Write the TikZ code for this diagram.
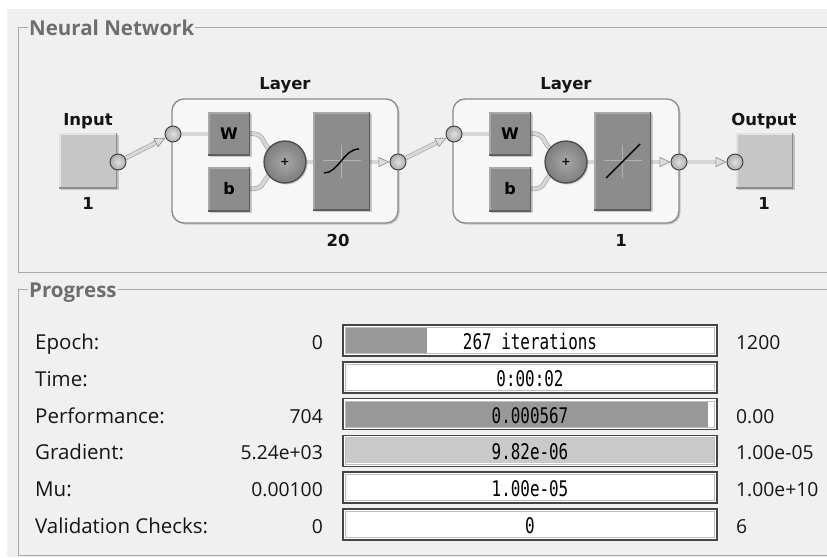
\documentclass[tikz,border=0pt]{standalone}
\usepackage{fontspec}
\setmainfont{Open Sans}
\newfontfamily\diagfont{DejaVu Sans}
\newfontfamily\barfont{DejaVu Sans Mono}[FakeStretch=0.74]
\usetikzlibrary{arrows.meta,shadows,calc}
\pgfdeclarelayer{back}
\pgfdeclarelayer{wires}
\pgfsetlayers{back,wires,main}

\definecolor{panel}{HTML}{F0F0F0}
\definecolor{groupline}{HTML}{A9A9A9}
\definecolor{titlegray}{HTML}{6E6E6E}
\definecolor{layerfill}{HTML}{F7F7F7}
\definecolor{layeredge}{HTML}{8A8A8A}
\definecolor{boxdark}{HTML}{8C8C8C}
\definecolor{boxdarkhi}{HTML}{A8A8A8}
\definecolor{boxdarklo}{HTML}{5E5E5E}
\definecolor{boxlight}{HTML}{C6C6C6}
\definecolor{boxlighthi}{HTML}{E2E2E2}
\definecolor{boxlightlo}{HTML}{8E8E8E}
\definecolor{wirefill}{HTML}{D6D6D6}
\definecolor{wireedge}{HTML}{9E9E9E}
\definecolor{tipfill}{HTML}{DCDCDC}
\definecolor{tipedge}{HTML}{8A8A8A}
\definecolor{portedge}{HTML}{3D3D3D}
\definecolor{textdark}{HTML}{151515}
\definecolor{barfill}{HTML}{989898}
\definecolor{barlight}{HTML}{C9C9C9}
\definecolor{baredge}{HTML}{454545}
\definecolor{barinner}{HTML}{BDBDBD}
\definecolor{crossgray}{HTML}{B2B2B2}

\tikzset{
  bevel/.style 2 args={path picture={
    \draw[#1,line width=3pt] (path picture bounding box.south west) -- (path picture bounding box.north west) -- (path picture bounding box.north east);
    \draw[#2,line width=3pt] (path picture bounding box.north east) -- (path picture bounding box.south east) -- (path picture bounding box.south west);}},
  softshadow/.style={drop shadow={shadow xshift=1.5pt, shadow yshift=-1.5pt, fill=black, opacity=0.18}},
  dlabel/.style={font=\diagfont\bfseries\fontsize{16.5}{18}\selectfont, text=textdark, inner sep=0pt},
  grouptitle/.style={font=\bfseries\fontsize{20.5}{22}\selectfont, text=titlegray, fill=panel, inner xsep=1pt, inner ysep=0pt, anchor=base west},
  layerbox/.style={rectangle, rounded corners=12pt, minimum width=226pt, minimum height=124pt, fill=layerfill, draw=layeredge, line width=1.3pt, softshadow},
  wbox/.style={rectangle, minimum width=42pt, minimum height=43pt, inner sep=0pt, fill=boxdark, bevel={boxdarkhi}{boxdarklo}, softshadow,
    font=\diagfont\bfseries\fontsize{16}{16}\selectfont, text=black, text height=11.5pt, text depth=0pt},
  tfbox/.style={rectangle, minimum width=57pt, minimum height=98pt, inner sep=0pt, fill=boxdark, bevel={boxdarkhi}{boxdarklo}, softshadow},
  iobox/.style={rectangle, minimum width=58pt, minimum height=55pt, inner sep=0pt, fill=boxlight, bevel={boxlighthi}{boxlightlo}, softshadow},
  sumnode/.style={circle, minimum size=42pt, inner sep=0pt, shading=radial, inner color=boxdarkhi, outer color=boxdark!90!black,
    draw=boxdarklo!80!black, line width=1.3pt, softshadow, font=\diagfont\bfseries\fontsize{11}{11}\selectfont},
  port/.style={circle, minimum size=16pt, inner sep=0pt, shading=radial, inner color=white!88!black, outer color=white!68!black,
    draw=portedge, line width=0.9pt},
  wire/.style={draw=wireedge, line width=0.6pt, double=wirefill, double distance=3.4pt},
  tipwire/.style={draw=wirefill, line width=0.2pt, -{Triangle[length=11pt,width=10pt,color=tipedge,fill=tipfill,line width=0.6pt]}},
  bar/.style={rectangle, minimum width=374pt, minimum height=31pt, inner sep=0pt, fill=white, draw=baredge, line width=1.6pt,
    path picture={\draw[barinner, line width=0.8pt] ($(path picture bounding box.south west)+(2.4pt,2.4pt)$) rectangle ($(path picture bounding box.north east)+(-2.4pt,-2.4pt)$);}},
  bartext/.style={font=\barfont\fontsize{21.5}{22}\selectfont, text=black, inner sep=0pt},
  plabel/.style={font=\fontsize{20.5}{22}\selectfont, text=textdark, inner sep=0pt},
  pvalue/.style={font=\fontsize{19.3}{21}\selectfont, text=textdark, inner sep=0pt},
}

\begin{document}
\begin{tikzpicture}[x=1pt,y=-1pt]
\useasboundingbox (0,0) rectangle (827,557);

\begin{pgfonlayer}{back}
  \fill[white] (0,0) rectangle (827,557);
  \fill[panel] (7,9) rectangle (827,557);
  % group frames, open on the right
  \draw[groupline, line width=0.8pt] (827,27) -- (18,27) -- (18,272) -- (827,272);
  \draw[groupline, line width=0.8pt] (827,289) -- (18,289) -- (18,555) -- (827,555);
  % layer frames
  \node[layerbox] (layer1) at (285,161) {};
  \node[layerbox] (layer2) at (566,161) {};
\end{pgfonlayer}

\node[grouptitle] (nntitle) at (28,35) {Neural Network};
\node[grouptitle] (progtitle) at (28,297) {Progress};

% input and output blocks
\node[iobox] (inbox) at (88,160.5) {};
\node[iobox, minimum width=57pt] (outbox) at (764.5,160.5) {};
\node[dlabel, anchor=base] (inlab) at (88,125) {Input};
\node[dlabel, anchor=base] (insize) at (88,209) {1};
\node[dlabel, anchor=base] (outlab) at (764,125) {Output};
\node[dlabel, anchor=base] (outsize) at (764,209) {1};

% layer titles and sizes
\node[dlabel, anchor=base] (l1lab) at (285,89) {Layer};
\node[dlabel, anchor=base] (l2lab) at (566,89) {Layer};
\node[dlabel, anchor=base] (l1size) at (338,246) {20};
\node[dlabel, anchor=base] (l2size) at (621,246) {1};

% layer 1 internals
\node[wbox] (W1) at (229,133.5) {W};
\node[wbox, minimum height=44pt] (b1) at (229,189) {b};
\node[sumnode] (sum1) at (285,162) {+};
\node[tfbox] (tf1) at (341.5,161) {};
\begin{scope}[shift={(tf1.center)}]
  \draw[crossgray, line width=1pt] (-19,-1) -- (19,-1) (0,-16) -- (0,17);
  \draw[black, line width=1.4pt] (-17.5,12) .. controls (-3,12) and (2,-12) .. (17.5,-12);
\end{scope}

% layer 2 internals
\node[wbox] (W2) at (510,133.5) {W};
\node[wbox, minimum height=44pt] (b2) at (510,189) {b};
\node[sumnode] (sum2) at (566,162) {+};
\node[tfbox] (tf2) at (622.5,161) {};
\begin{scope}[shift={(tf2.center)}]
  \draw[crossgray, line width=1pt] (-19,-1) -- (19,-1) (0,-16) -- (0,17);
  \draw[black, line width=1.4pt] (-16.5,17) -- (17.5,-17);
\end{scope}

% ports
\node[port] (inport) at (118,162) {};
\node[port] (l1in) at (173,134) {};
\node[port] (l1out) at (398,162) {};
\node[port] (l2in) at (454,134) {};
\node[port] (l2out) at (679,162) {};
\node[port] (outport) at (735,162) {};

% connectors
\begin{pgfonlayer}{wires}
  % between blocks
  \draw[wire, shorten >=9pt] (inport) -- (l1in);
  \draw[tipwire] (inport) -- (l1in);
  \draw[wire, shorten >=9pt] (l1out) -- (l2in);
  \draw[tipwire] (l1out) -- (l2in);
  \draw[wire, shorten >=9pt] (l2out) -- (outport);
  \draw[tipwire] (l2out) -- (outport);
  % inside layer 1
  \draw[wire] (l1in) -- (l1in -| W1.west);
  \draw[wire] (W1.east) .. controls +(14,0) and +(-7,-7) .. (sum1.140);
  \draw[wire] (b1.east) .. controls +(14,0) and +(-7,7) .. (sum1.220);
  \draw[wire] (sum1.east) -- (sum1.east -| tf1.west);
  \draw[wire, shorten >=9pt] (tf1.east |- l1out) -- (l1out);
  \draw[tipwire] (tf1.east |- l1out) -- (l1out);
  % inside layer 2
  \draw[wire] (l2in) -- (l2in -| W2.west);
  \draw[wire] (W2.east) .. controls +(14,0) and +(-7,-7) .. (sum2.140);
  \draw[wire] (b2.east) .. controls +(14,0) and +(-7,7) .. (sum2.220);
  \draw[wire] (sum2.east) -- (sum2.east -| tf2.west);
  \draw[wire, shorten >=9pt] (tf2.east |- l2out) -- (l2out);
  \draw[tipwire] (tf2.east |- l2out) -- (l2out);
\end{pgfonlayer}

% progress rows
\foreach \i/\lab/\lval/\btxt/\rval/\fx/\fc in {
  0/Epoch:/0/267 iterations/1200/427/barfill,
  1/Time://0:00:02//346/barfill,
  2/Performance:/704/0.000567/0.00/708/barfill,
  3/Gradient:/5.24e+03/9.82e-06/1.00e-05/714/barlight,
  4/Mu:/0.00100/1.00e-05/1.00e+10/346/barfill,
  5/Validation Checks:/0/0/6/346/barfill}
{
  \pgfmathsetmacro\yt{325+36.8*\i}
  \pgfmathsetmacro\yc{\yt+15.5}
  \node[bar] (bar\i) at (530,\yc) {};
  \fill[\fc] (346,\yt+3) rectangle (\fx,\yt+28);
  \node[bartext, anchor=base] (bt\i) at (530,\yc+9) {\btxt};
  \node[plabel, anchor=base west] (lab\i) at (35,\yc+9) {\lab};
  \node[pvalue, anchor=base east] (lv\i) at (323,\yc+9) {\lval};
  \node[pvalue, anchor=base west] (rv\i) at (736,\yc+9) {\rval};
}
\end{tikzpicture}
\end{document}
